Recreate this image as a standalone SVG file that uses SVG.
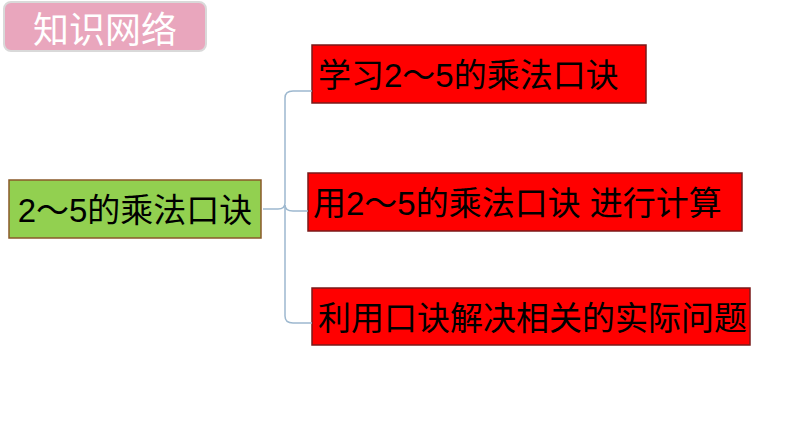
<svg xmlns="http://www.w3.org/2000/svg" width="794" height="447" viewBox="0 0 794 447">
<style>
.r{fill:#ff0000;stroke:#7a1a1a;stroke-width:1.5}
.t{font-family:"Liberation Sans","Noto Sans CJK SC",sans-serif;font-size:33px;fill:#000}
.c{fill:none;stroke:#9db8cf;stroke-width:1.5}
</style>
<g id="title"><rect x="4" y="2" width="202" height="49" rx="7" fill="#e9a6bd" stroke="#d9d9d9" stroke-width="2"/>
<text x="105" y="43" text-anchor="middle" font-family="Noto Sans CJK SC,sans-serif" font-size="36" fill="#fff">知识网络</text></g>
<g id="root"><rect x="9" y="180" width="252" height="58" fill="#92d050" stroke="#8a5a2a" stroke-width="1.5"/>
<text class="t" x="135" y="222" text-anchor="middle">2～5的乘法口诀</text></g>
<g id="n1"><rect class="r" x="312" y="45" width="334" height="58"/><text class="t" x="318" y="87">学习2～5的乘法口诀</text></g>
<g id="n2"><rect class="r" x="308" y="173" width="434" height="58"/><text class="t" x="313" y="215">用2～5的乘法口诀 进行计算</text></g>
<g id="n3"><rect class="r" x="312" y="288" width="438" height="57"/><text class="t" x="318" y="330">利用口诀解决相关的实际问题</text></g>
<g id="connectors">
<path class="c" d="M263 209 H278 Q285 209 285 203 V98 Q285 91 293 91 H312"/>
<path class="c" d="M285 209 Q285 203 285 209 V316 Q285 323 293 323 H312"/>
<path class="c" d="M285 205 Q285 211 293 211 H308"/>
</g>
</svg>
